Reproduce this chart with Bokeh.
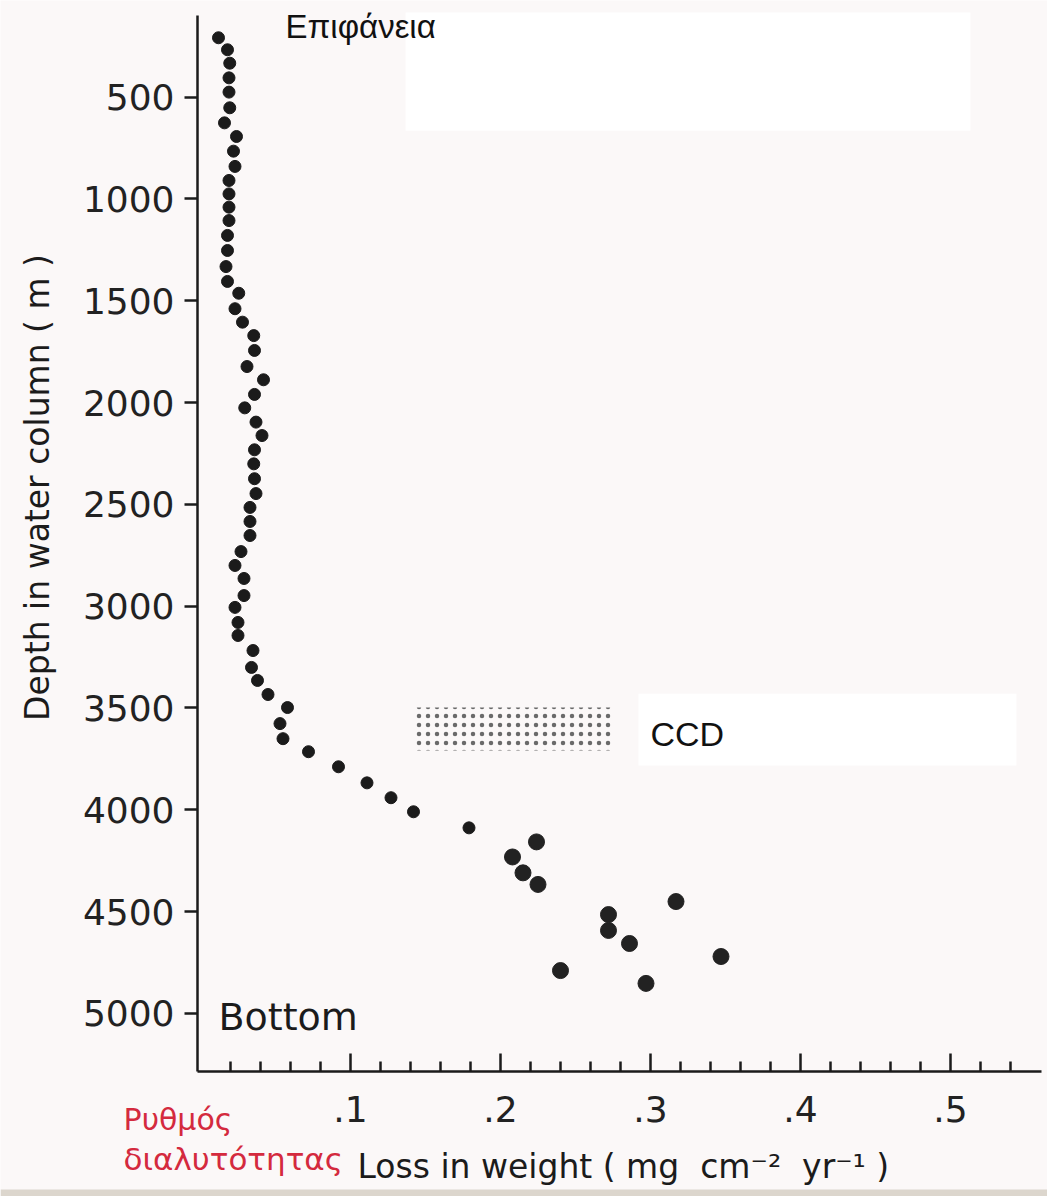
import math
from bokeh.plotting import figure
from bokeh.models import Range1d, FixedTicker, Label, BoxAnnotation
from bokeh.embed import file_html
from bokeh.resources import INLINE

# ---- data ----
loss_mg_cm2_yr = [0.012, 0.018, 0.0195, 0.019, 0.019, 0.0195, 0.016, 0.024, 0.022, 0.023,
                  0.019, 0.019, 0.019, 0.019, 0.018, 0.018, 0.017, 0.018, 0.0255, 0.023,
                  0.028, 0.0355, 0.036, 0.031, 0.042, 0.036, 0.0295, 0.037, 0.041, 0.036,
                  0.0355, 0.036, 0.037, 0.033, 0.033, 0.033, 0.027, 0.023, 0.029, 0.029,
                  0.023, 0.025, 0.025, 0.035, 0.034, 0.038, 0.045, 0.058, 0.053, 0.055,
                  0.072, 0.092, 0.111, 0.127, 0.142, 0.179, 0.224, 0.208, 0.215, 0.225,
                  0.317, 0.272, 0.272, 0.286, 0.347, 0.240, 0.297]
depth_m = [208, 267, 333, 405, 475, 552, 626, 693, 765, 840,
           909, 975, 1040, 1106, 1179, 1253, 1332, 1405, 1463, 1539,
           1605, 1671, 1744, 1823, 1888, 1960, 2026, 2096, 2162, 2232,
           2301, 2374, 2447, 2515, 2584, 2653, 2732, 2800, 2864, 2948,
           3006, 3080, 3144, 3218, 3301, 3365, 3434, 3498, 3577, 3651,
           3715, 3789, 3868, 3941, 4010, 4089, 4158, 4232, 4310, 4367,
           4451, 4515, 4593, 4657, 4721, 4790, 4853]
n_small = 56  # the first points are drawn smaller than the deep-water ones

y_ticks = [500, 1000, 1500, 2000, 2500, 3000, 3500, 4000, 4500, 5000]
x_ticks = [0.1, 0.2, 0.3, 0.4, 0.5]
x_tick_labels = [".1", ".2", ".3", ".4", ".5"]
x_minor = [round(0.02 * i, 2) for i in range(1, 28) if i % 5 != 0]

# axis extents
x_axis_span = (-0.002, 0.5607)
y_axis_span = (98.7, 5286)

# CCD zone (stippled band)
ccd_loss = (0.143, 0.274)
ccd_depth = (3498, 3709)

BG = "#fbf8f8"
INK = "#1b1b1b"
RED = "#d42a3e"
NB = "\u00a0"

p = figure(width=1047, height=1196, output_backend="svg", toolbar_location=None,
           x_range=Range1d(-0.133333, 0.564667), y_range=Range1d(5899.8, 25.0),
           min_border_left=0, min_border_top=0, min_border_bottom=0, min_border_right=0)
p.background_fill_color = BG
p.border_fill_color = BG
p.outline_line_color = None
p.grid.visible = False

# axes, placed at fixed data locations inside the frame
for ax in (p.xaxis[0], p.yaxis[0]):
    ax.axis_line_color = INK
    ax.axis_line_width = 2.5
    ax.major_tick_line_color = INK
    ax.major_tick_line_width = 2.5
    ax.minor_tick_line_color = INK
    ax.minor_tick_line_width = 2.5
    ax.major_label_text_font = "DejaVu Sans"
    ax.major_label_text_font_size = "36px"
    ax.major_label_text_color = "#222222"

p.yaxis.fixed_location = x_axis_span[0]
p.yaxis.bounds = y_axis_span
p.yaxis.ticker = FixedTicker(ticks=y_ticks, minor_ticks=[])
p.yaxis.major_tick_out = 13
p.yaxis.major_tick_in = 0
p.yaxis.minor_tick_out = 0
p.yaxis.minor_tick_in = 0
p.yaxis.major_label_standoff = 10

p.xaxis.fixed_location = y_axis_span[1]
p.xaxis.bounds = x_axis_span
p.xaxis.ticker = FixedTicker(ticks=x_ticks, minor_ticks=x_minor)
p.xaxis.major_label_overrides = {t: s for t, s in zip(x_ticks, x_tick_labels)}
p.xaxis.major_tick_in = 18
p.xaxis.major_tick_out = 0
p.xaxis.minor_tick_in = 10
p.xaxis.minor_tick_out = 0
p.xaxis.major_label_standoff = 24

# white patches of the reference and the scanned bottom edge
p.add_layout(BoxAnnotation(left=0.1367, right=0.5133, top=84, bottom=665,
                           fill_color="white", fill_alpha=1, line_color=None))
p.add_layout(BoxAnnotation(left=0.292, right=0.544, top=3430, bottom=3783,
                           fill_color="white", fill_alpha=1, line_color=None))
p.add_layout(BoxAnnotation(top=5865, fill_color="#dcd6cd", fill_alpha=1, line_color=None))

# CCD stippled band
p.quad(left=[ccd_loss[0]], right=[ccd_loss[1]], top=[ccd_depth[0]], bottom=[ccd_depth[1]],
       fill_alpha=0, line_alpha=0, hatch_pattern="dot", hatch_color="#6a6a6a",
       hatch_scale=9, hatch_weight=1.8)

# points
p.scatter(loss_mg_cm2_yr[:n_small], depth_m[:n_small], size=12, color=INK)
p.scatter(loss_mg_cm2_yr[n_small:], depth_m[n_small:], size=16, color="#222222")

# texts
def lab(x, y, text, font, size, color=INK, angle=0.0, align="left", baseline="alphabetic"):
    p.add_layout(Label(x=x, y=y, text=text, text_font=font, text_font_size=size,
                       text_color=color, angle=angle, text_align=align,
                       text_baseline=baseline))

lab(-0.1087, 2417, "Depth in water column ( m )", "DejaVu Sans", "33px",
    angle=math.pi / 2, align="center", baseline="middle")
lab(0.1047, 5752, "Loss in weight ( mg" + NB * 2 + "cm\u207b\u00b2" + NB * 2 + "yr\u207b\u00b9 )",
    "DejaVu Sans", "33px")
lab(-0.0513, 5522, "Ρυθμός", "DejaVu Sans", "30px", color=RED)
lab(-0.0513, 5718, "διαλυτότητας", "DejaVu Sans", "31px", color=RED)
lab(0.012, 5020, "Bottom", "DejaVu Sans", "38px")
lab(0.0567, 153, "Επιφάνεια", "Liberation Sans", "33px", color="#111111")
lab(0.30, 3630, "CCD", "Liberation Sans", "34px", color="#111111")

open("out.html", "w").write(file_html(p, INLINE))
